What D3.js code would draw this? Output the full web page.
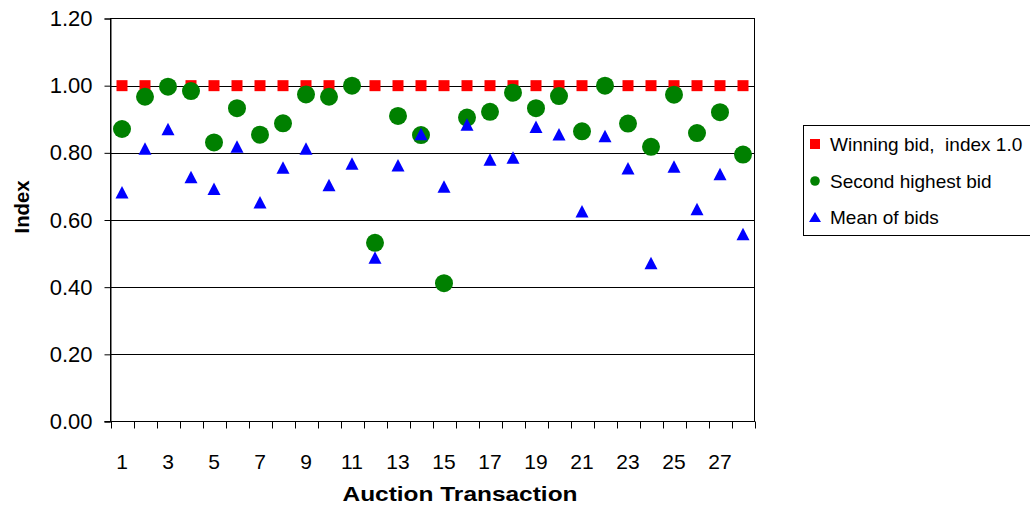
<!DOCTYPE html>
<html>
<head>
<meta charset="utf-8">
<script src="https://cdn.jsdelivr.net/npm/d3@7/dist/d3.min.js"></script>
<style>
  html, body { margin: 0; padding: 0; background: #fff; }
  svg { display: block; font-family: "Liberation Sans", Arial, sans-serif; }
</style>
</head>
<body>
<svg id="chart" width="1030" height="506"></svg>
<script>
// Auction transactions 1..28
const transactions = d3.range(1, 29);
// Winning bid, used as the index base
const winningBid = [1.00, 1.00, 1.00, 1.00, 1.00, 1.00, 1.00, 1.00, 1.00, 1.00,
                    1.00, 1.00, 1.00, 1.00, 1.00, 1.00, 1.00, 1.00, 1.00, 1.00,
                    1.00, 1.00, 1.00, 1.00, 1.00, 1.00, 1.00, 1.00];
// Second highest bid relative to the winning bid
const secondBid = [0.871, 0.967, 0.997, 0.984, 0.831, 0.933, 0.854, 0.888, 0.974, 0.967,
                   1.000, 0.532, 0.910, 0.853, 0.412, 0.905, 0.922, 0.979, 0.933, 0.969,
                   0.864, 1.000, 0.887, 0.818, 0.973, 0.859, 0.921, 0.795];
// Mean of all bids relative to the winning bid
const meanBid = [0.683, 0.813, 0.871, 0.728, 0.693, 0.819, 0.653, 0.756, 0.813, 0.704,
                 0.768, 0.488, 0.763, 0.856, 0.700, 0.884, 0.780, 0.786, 0.878, 0.855,
                 0.626, 0.850, 0.754, 0.472, 0.759, 0.633, 0.737, 0.558];
const yTicks = [0, 0.2, 0.4, 0.6, 0.8, 1.0, 1.2];
const xLabels = [1, 3, 5, 7, 9, 11, 13, 15, 17, 19, 21, 23, 25, 27];
const seriesNames = ["Winning bid,  index 1.0", "Second highest bid", "Mean of bids"];

const svg = d3.select("#chart");
const plot = { left: 110.5, right: 754.5, top: 18.5, bottom: 421.5 };

const x = d3.scaleBand().domain(transactions).range([plot.left, plot.right]).padding(0);
const y = d3.scaleLinear().domain([0, 1.2]).range([plot.bottom, plot.top]);
const cx = d => x(d) + x.bandwidth() / 2;

// Horizontal gridlines
svg.append("g").selectAll("line")
  .data(yTicks.filter(t => t > 0 && t < 1.2))
  .join("line")
  .attr("x1", plot.left).attr("x2", plot.right)
  .attr("y1", d => Math.round(y(d)) + 0.5).attr("y2", d => Math.round(y(d)) + 0.5)
  .attr("stroke", "#000").attr("stroke-width", 1);

// Plot area frame
svg.append("rect")
  .attr("x", plot.left).attr("y", plot.top)
  .attr("width", plot.right - plot.left).attr("height", plot.bottom - plot.top)
  .attr("fill", "none").attr("stroke", "#000").attr("stroke-width", 1);

// Y axis
const yAxis = d3.axisLeft(y).tickValues(yTicks).tickSize(6).tickPadding(12)
  .tickFormat(d3.format(".2f"));
const gy = svg.append("g").attr("transform", `translate(${plot.left},0)`).call(yAxis);
gy.select(".domain").attr("stroke", "#000");
gy.selectAll(".tick line").attr("stroke", "#000");
gy.selectAll(".tick text").attr("font-size", 22).attr("fill", "#000")
  .attr("font-family", "'Liberation Sans', Arial, sans-serif");

// X axis: tick marks on category boundaries, labels on odd categories
const gx = svg.append("g").attr("transform", `translate(0,${plot.bottom})`);
gx.append("line").attr("x1", plot.left - 6).attr("x2", plot.right)
  .attr("stroke", "#000");
const edges = transactions.map(d => x(d)).concat([plot.right]);
gx.selectAll("line.tk").data(edges).join("line").attr("class", "tk")
  .attr("x1", d => Math.round(d) + 0.5).attr("x2", d => Math.round(d) + 0.5)
  .attr("y1", 0).attr("y2", 7).attr("stroke", "#000");
gx.selectAll("text").data(xLabels).join("text")
  .attr("x", d => cx(d)).attr("y", 47)
  .attr("text-anchor", "middle").attr("font-size", 21).attr("fill", "#000")
  .text(d => d);

// Axis titles
svg.append("text").attr("x", 460).attr("y", 501).attr("text-anchor", "middle")
  .attr("font-size", 21).attr("font-weight", "bold")
  .attr("textLength", 235).attr("lengthAdjust", "spacingAndGlyphs")
  .text("Auction Transaction");
svg.append("text").attr("transform", "translate(29,207) rotate(-90)")
  .attr("text-anchor", "middle").attr("font-size", 21).attr("font-weight", "bold")
  .attr("textLength", 53).attr("lengthAdjust", "spacingAndGlyphs")
  .text("Index");

// Marker shapes
const sq = 11;
const triPath = (w, h) => `M0,${-h / 2}L${w / 2},${h / 2}L${-w / 2},${h / 2}Z`;

// Winning bid squares
svg.append("g").selectAll("rect").data(transactions).join("rect")
  .attr("x", (d, i) => cx(d) - sq / 2).attr("y", (d, i) => y(winningBid[i]) - sq / 2)
  .attr("width", sq).attr("height", sq).attr("fill", "#ff0000");

// Second highest bid circles
svg.append("g").selectAll("circle").data(transactions).join("circle")
  .attr("cx", d => cx(d)).attr("cy", (d, i) => y(secondBid[i]))
  .attr("r", 9).attr("fill", "#008000");

// Mean bid triangles
svg.append("g").selectAll("path").data(transactions).join("path")
  .attr("transform", (d, i) => `translate(${cx(d)},${y(meanBid[i])})`)
  .attr("d", triPath(13, 12.5)).attr("fill", "#0000ff");

// Legend
const lg = svg.append("g");
lg.append("rect").attr("x", 803.5).attr("y", 125.5).attr("width", 240).attr("height", 110)
  .attr("fill", "#fff").attr("stroke", "#000");
const rowY = [144, 181, 217];
lg.append("rect").attr("x", 810).attr("y", rowY[0] - 5).attr("width", 10).attr("height", 10)
  .attr("fill", "#ff0000");
lg.append("circle").attr("cx", 815).attr("cy", rowY[1]).attr("r", 4.8).attr("fill", "#008000");
lg.append("path").attr("transform", `translate(815,${rowY[2]})`)
  .attr("d", triPath(12, 10)).attr("fill", "#0000ff");
lg.selectAll("text.lbl").data(seriesNames).join("text").attr("class", "lbl")
  .attr("x", 830).attr("y", (d, i) => rowY[i]).attr("dy", "0.35em")
  .attr("font-size", 19).attr("fill", "#000")
  .attr("xml:space", "preserve")
  .text(d => d);
</script>
</body>
</html>
